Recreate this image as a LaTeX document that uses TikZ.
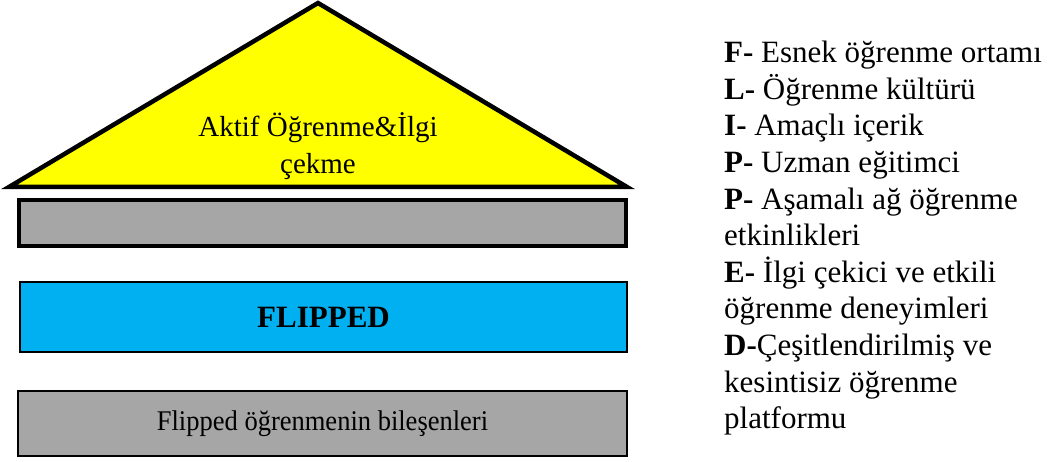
\documentclass[tikz,border=0pt]{standalone}
\usepackage{fontspec}
\setmainfont{Liberation Serif}
\definecolor{roofyellow}{HTML}{FFFF00}
\definecolor{bargray}{HTML}{A6A6A6}
\definecolor{barblue}{HTML}{00B0F0}
\begin{document}
\begin{tikzpicture}[x=1pt,y=-1pt,
  roof/.style={draw=black,line width=4.5pt,fill=roofyellow,line join=miter},
  bar/.style={draw=black,line width=3pt,inner sep=0pt},
  lbl/.style={inner sep=0pt,align=center,font=\fontsize{29}{37}\selectfont}]
\useasboundingbox (0,0) rectangle (1058,462);
% roof
\coordinate (apex) at (318,3);
\coordinate (bl) at (9,187);
\coordinate (br) at (627,187);
\draw[roof] (apex) -- (br) -- (bl) -- cycle;
\node[lbl] (rooftext) at (318,146) {Aktif Öğrenme\&İlgi\\çekme};
% bars
\node[bar,line width=4pt,fill=bargray,minimum width=607pt,minimum height=46pt] (bar1) at (322.5,223.5) {};
\node[bar,line width=2.5pt,fill=barblue,minimum width=607pt,minimum height=70pt,font=\fontsize{31}{37}\selectfont\bfseries] (flipped) at (323.5,317) {FLIPPED};
\node[bar,line width=2.5pt,fill=bargray,minimum width=609pt,minimum height=65pt,font=\fontsize{28.5}{32}\selectfont] (base) at (322.5,423.5) {\scalebox{0.93}[1]{Flipped öğrenmenin bileşenleri}};
% list
\node[anchor=north west,inner sep=0pt,align=left,font=\fontsize{31}{36.6}\selectfont] (list) at (724,41)
{\textbf{F-} Esnek öğrenme ortamı\\
\textbf{L-} Öğrenme kültürü\\
\textbf{I-} Amaçlı içerik\\
\textbf{P-} Uzman eğitimci\\
\textbf{P-} Aşamalı ağ öğrenme\\
etkinlikleri\\
\textbf{E-} İlgi çekici ve etkili\\
öğrenme deneyimleri\\
\textbf{D-}Çeşitlendirilmiş ve\\
kesintisiz öğrenme\\
platformu};
\end{tikzpicture}
\end{document}
